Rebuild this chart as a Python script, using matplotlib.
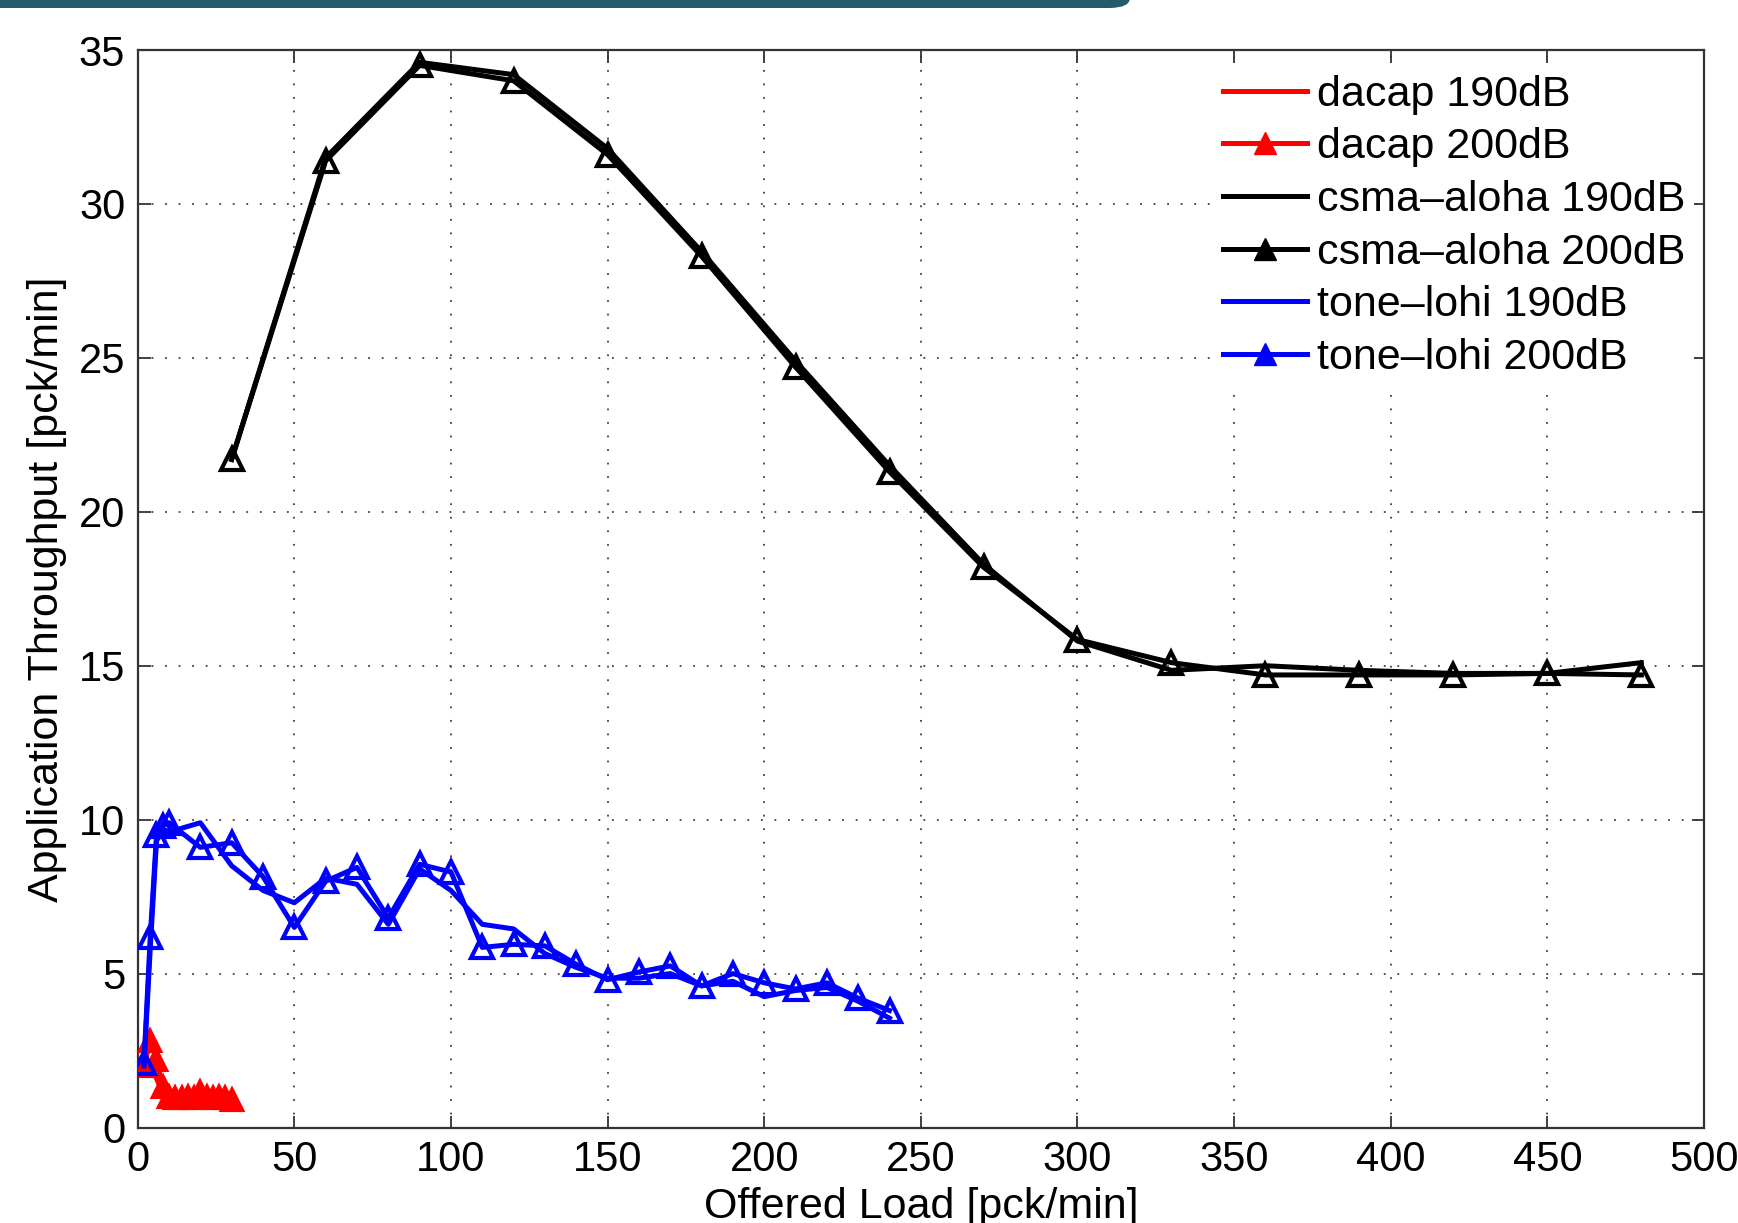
import matplotlib
matplotlib.use("Agg")
import matplotlib.pyplot as plt
from matplotlib.lines import Line2D
from matplotlib.patches import FancyBboxPatch

plt.rcParams['font.family'] = ['Liberation Sans', 'DejaVu Sans']

# ---- data ----
dacap_x = [2, 4, 6, 8, 10, 12, 14, 16, 18, 20, 22, 24, 26, 28, 30]
dacap_190 = [1.9, 2.0, 1.6, 1.1, 0.9, 0.9, 0.9, 0.95, 0.9, 1.0, 0.95, 0.9, 0.95, 0.9, 0.9]
dacap_200 = [2.0, 2.8, 2.2, 1.3, 1.0, 0.95, 0.95, 1.0, 0.95, 1.15, 1.0, 0.95, 1.0, 0.95, 0.9]

csma_x = [30, 60, 90, 120, 150, 180, 210, 240, 270, 300, 330, 360, 390, 420, 450, 480]
csma_190 = [21.7, 31.5, 34.6, 34.2, 31.8, 28.45, 24.9, 21.5, 18.3, 15.8,
            14.85, 15.0, 14.85, 14.75, 14.75, 15.1]
csma_200 = [21.7, 31.4, 34.5, 34.0, 31.6, 28.3, 24.7, 21.3, 18.2, 15.85,
            15.1, 14.7, 14.7, 14.7, 14.75, 14.7]

tone_x = [2, 4, 6, 8, 10, 20, 30, 40, 50, 60, 70, 80, 90, 100, 110, 120, 130,
          140, 150, 160, 170, 180, 190, 200, 210, 220, 230, 240]
tone_190 = [2.0, 5.8, 9.3, 9.7, 9.6, 9.9, 8.5, 7.7, 7.3, 8.1, 7.9, 6.6, 8.4, 7.7,
            6.6, 6.45, 5.65, 5.2, 4.85, 4.85, 5.0, 4.6, 4.75, 4.25, 4.45, 4.55, 4.1, 3.55]
tone_200 = [2.1, 6.2, 9.5, 9.8, 9.9, 9.1, 9.25, 8.15, 6.5, 8.0, 8.45, 6.8, 8.55, 8.3,
            5.85, 5.95, 5.9, 5.3, 4.8, 5.05, 5.25, 4.6, 5.0, 4.7, 4.5, 4.7, 4.2, 3.8]

labels = ['dacap 190dB', 'dacap 200dB', 'csma\u2013aloha 190dB',
          'csma\u2013aloha 200dB', 'tone\u2013lohi 190dB', 'tone\u2013lohi 200dB']
xticks = list(range(0, 501, 50))
yticks = list(range(0, 36, 5))

# ---- figure ----
W, H = 1738, 1223
fig = plt.figure(figsize=(W / 100, H / 100), dpi=100)
left, right, top, bottom = 137.7, 1704, 50, 1127.5
ax = fig.add_axes([left / W, 1 - bottom / H, (right - left) / W, (bottom - top) / H])

# banner at top
banner = FancyBboxPatch((-20 / W, 1 - 8 / H), (1130 + 20) / W, 30 / H,
                        boxstyle="round,pad=0,rounding_size=0.012",
                        transform=fig.transFigure, facecolor='#245b6b',
                        edgecolor='none', mutation_aspect=H / W, clip_on=False)
fig.patches.append(banner)

lw = 3.6
ms = 16
mew = 3.0
ax.plot(dacap_x, dacap_190, color='red', lw=lw, zorder=3)
ax.plot(dacap_x, dacap_200, color='red', lw=lw, marker='^', ms=14,
        mfc='red', mec='red', mew=mew, zorder=3)
ax.plot(csma_x, csma_190, color='black', lw=lw, zorder=3)
ax.plot(csma_x, csma_200, color='black', lw=lw, marker='^', ms=ms,
        mfc='none', mec='black', mew=mew, zorder=3)
ax.plot(tone_x, tone_190, color='blue', lw=lw, zorder=3)
ax.plot(tone_x, tone_200, color='blue', lw=lw, marker='^', ms=ms,
        mfc='none', mec='blue', mew=mew, zorder=3)

ax.set_xlim(0, 500)
ax.set_ylim(0, 35)
ax.set_xticks(xticks)
ax.set_yticks(yticks)
ax.tick_params(direction='in', length=9, width=1.3, top=True, right=True,
               labelsize=30, pad=9, color='0.2')
ax.grid(True, linestyle=(0, (1, 6.5)), color='0.25', lw=1.3)
for s in ax.spines.values():
    s.set_linewidth(1.6)
    s.set_color('0.2')

ax.set_xlabel('Offered Load [pck/min]', fontsize=31, va='baseline')
ax.xaxis.set_label_coords(0.5, -(1218 - bottom) / (bottom - top))
ax.set_ylabel('Application Throughput [pck/min]', fontsize=31)
ax.yaxis.set_label_coords(-(left - 67) / (right - left), 0.5)

handles = [
    Line2D([], [], color='red', lw=lw),
    Line2D([], [], color='red', lw=lw, marker='^', ms=16, mfc='red', mec='red'),
    Line2D([], [], color='black', lw=lw),
    Line2D([], [], color='black', lw=lw, marker='^', ms=16, mfc='black', mec='black'),
    Line2D([], [], color='blue', lw=lw),
    Line2D([], [], color='blue', lw=lw, marker='^', ms=16, mfc='blue', mec='blue'),
]
leg = ax.legend(handles, labels, loc='upper left',
                bbox_to_anchor=((1214 - left) / (right - left), 1 - (66 - top) / (bottom - top)),
                borderaxespad=0, borderpad=0.2, fontsize=31, handlelength=1.95,
                handletextpad=0.25, labelspacing=0.295, frameon=True, fancybox=False)
leg.get_frame().set_edgecolor('none')
leg.get_frame().set_facecolor('white')
leg.get_frame().set_alpha(1)

fig.savefig('out.png', dpi=100)
